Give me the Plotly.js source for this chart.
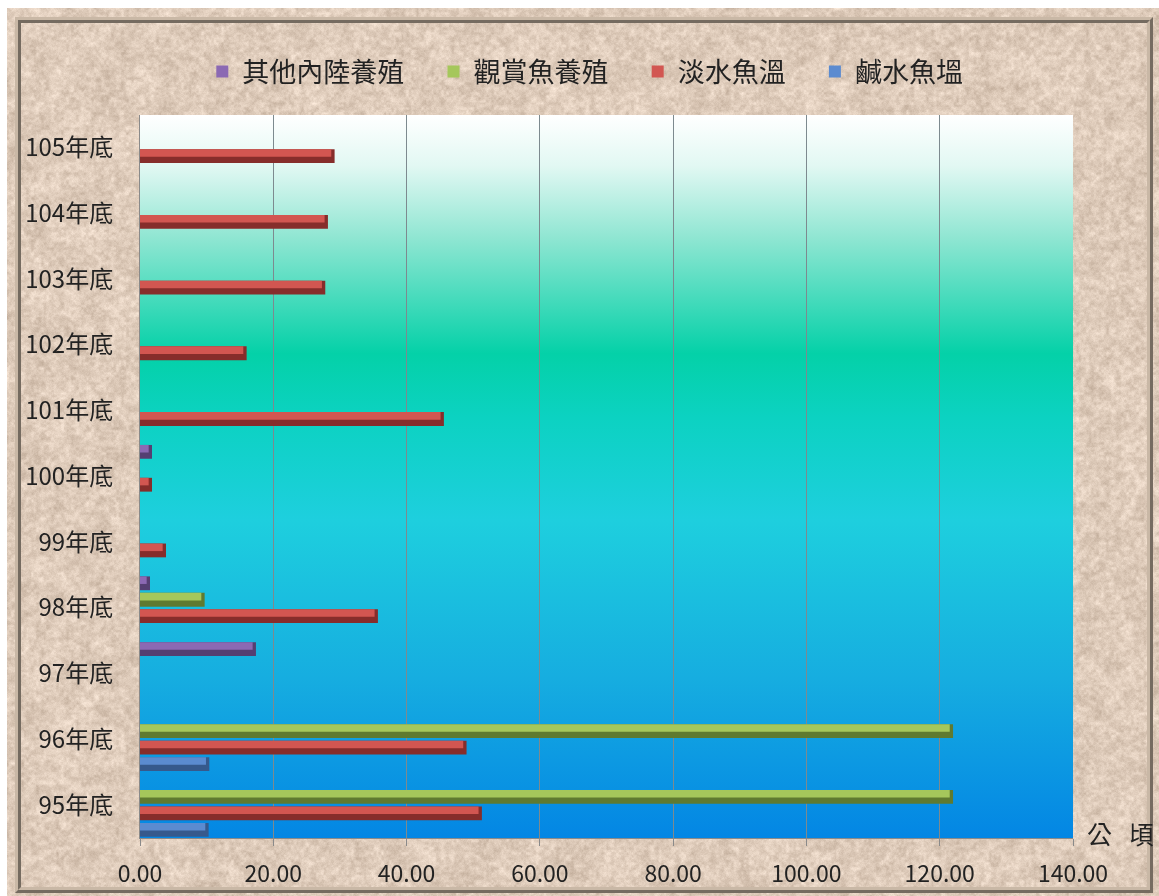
<!DOCTYPE html>
<html>
<head>
<meta charset="utf-8">
<script src="https://cdn.plot.ly/plotly-3.0.1.min.js"></script>
<style>
  html, body { margin: 0; padding: 0; background: #ffffff; width: 1159px; height: 896px; overflow: hidden; }
  #bg { position: absolute; left: 7px; top: 8px; width: 1152px; height: 888px; background-color: #dac7b3; }
  #bevel { position: absolute; left: 15px; top: 17px; width: 1126px; height: 864px; border: 6px ridge #c9b8a6; }
  #chart { position: absolute; left: 0; top: 0; width: 1159px; height: 896px; }
</style>
</head>
<body>
<canvas id="bg" width="1152" height="888"></canvas>
<div id="bevel"></div>
<div id="chart"></div>
<script>
// ---- data ----
const categories = ['95年底','96年底','97年底','98年底','99年底','100年底','101年底','102年底','103年底','104年底','105年底'];
const seriesNames = ['鹹水魚塭','淡水魚溫','觀賞魚養殖','其他內陸養殖'];
const saltwaterPond = [10.3, 10.4, 0, 0, 0, 0, 0, 0, 0, 0, 0];
const freshwaterPond = [51.3, 49.0, 0, 35.7, 3.9, 1.8, 45.6, 16.0, 27.8, 28.2, 29.2];
const ornamentalFish = [122.0, 122.0, 0, 9.7, 0, 0, 0, 0, 0, 0, 0];
const otherInland = [0, 0, 17.4, 1.5, 0, 1.8, 0, 0, 0, 0, 0];
const xTickValues = [0, 20, 40, 60, 80, 100, 120, 140];
const xTickLabels = ['0.00','20.00','40.00','60.00','80.00','100.00','120.00','140.00'];
const unitLabel = '公\u00a0\u00a0\u00a0頃';

// ---- sand texture background (deterministic value noise) ----
(function () {
  const cv = document.getElementById('bg');
  const ctx = cv.getContext('2d');
  const W = cv.width, H = cv.height;
  function hash(x, y, s) {
    let h = (x * 374761393 + y * 668265263 + s * 982451653) | 0;
    h = Math.imul(h ^ (h >>> 13), 1274126177);
    h = h ^ (h >>> 16);
    return ((h >>> 0) % 10000) / 10000;
  }
  function vnoise(x, y, scale, s) {
    const gx = x / scale, gy = y / scale;
    const x0 = Math.floor(gx), y0 = Math.floor(gy);
    let fx = gx - x0, fy = gy - y0;
    fx = fx * fx * (3 - 2 * fx); fy = fy * fy * (3 - 2 * fy);
    const a = hash(x0, y0, s), b = hash(x0 + 1, y0, s), c = hash(x0, y0 + 1, s), d = hash(x0 + 1, y0 + 1, s);
    return (a * (1 - fx) + b * fx) * (1 - fy) + (c * (1 - fx) + d * fx) * fy;
  }
  const img = ctx.createImageData(W, H);
  const p = img.data;
  for (let y = 0; y < H; y++) {
    for (let x = 0; x < W; x++) {
      const n = (vnoise(x, y, 16, 1) - 0.5) * 14 + (vnoise(x, y, 5, 2) - 0.5) * 22 + (vnoise(x, y, 2.5, 3) - 0.5) * 22 + (hash(x, y, 4) - 0.5) * 10;
      const i = (y * W + x) * 4;
      p[i] = Math.max(0, Math.min(255, 222 + n));
      p[i + 1] = Math.max(0, Math.min(255, 203 + n * 1.05));
      p[i + 2] = Math.max(0, Math.min(255, 186 + n * 1.1));
      p[i + 3] = 255;
    }
  }
  ctx.putImageData(img, 0, 0);
})();

// ---- plot-area gradient ----
const gradSvg = "<svg xmlns='http://www.w3.org/2000/svg' width='100' height='1000' preserveAspectRatio='none'>" +
  "<defs><linearGradient id='g' x1='0' y1='0' x2='0' y2='1'>" +
  "<stop offset='0' stop-color='#ffffff'/>" +
  "<stop offset='0.07' stop-color='#e2f8f3'/>" +
  "<stop offset='0.17' stop-color='#8fe6d2'/>" +
  "<stop offset='0.33' stop-color='#04d1a8'/>" +
  "<stop offset='0.42' stop-color='#0cd2c2'/>" +
  "<stop offset='0.56' stop-color='#1ecfde'/>" +
  "<stop offset='0.78' stop-color='#16ade0'/>" +
  "<stop offset='1' stop-color='#0386e4'/>" +
  "</linearGradient></defs><rect width='100' height='1000' fill='url(#g)'/></svg>";

const FONT = '"Noto Sans CJK TC", "Noto Sans", sans-serif';
const darkColors = ['#36598c', '#862d2b', '#5f7a30', '#553f72'];
const lightColors = ['#5b8bd0', '#d25651', '#a5c75b', '#8b69b3'];
const values = [saltwaterPond, freshwaterPond, ornamentalFish, otherInland];
const pad = '\u00a0\u00a0\u00a0\u00a0';

const SLOT = 0.25, BARW = 0.21, TOPW = 0.115;
const baseTraces = values.map((v, i) => ({
  type: 'bar',
  orientation: 'h',
  name: seriesNames[i],
  legendgroup: 's' + i,
  showlegend: false,
  y: categories,
  x: v,
  width: BARW,
  offset: -0.5 + i * SLOT + 0.02,
  marker: { color: darkColors[i], line: { width: 0 } },
  hoverinfo: 'x+y+name'
}));
const topTraces = values.map((v, i) => ({
  type: 'bar',
  orientation: 'h',
  name: seriesNames[i] + (i === 0 ? '' : pad),
  legendgroup: 's' + i,
  showlegend: true,
  y: categories,
  x: v.map(val => val > 0 ? Math.max(0, val - 0.5) : 0),
  width: TOPW,
  offset: -0.5 + i * SLOT + 0.02 + (BARW - TOPW),
  marker: { color: lightColors[i], line: { width: 0 } },
  hoverinfo: 'skip'
}));

const layout = {
  width: 1159,
  height: 896,
  paper_bgcolor: 'rgba(0,0,0,0)',
  plot_bgcolor: 'rgba(0,0,0,0)',
  margin: { l: 140, r: 86, t: 115, b: 58 },
  barmode: 'overlay',
  font: { family: FONT, size: 23, color: '#222222' },
  showlegend: true,
  legend: {
    orientation: 'h',
    traceorder: 'reversed',
    x: 0.505, xref: 'container', xanchor: 'center',
    y: 1 - 72 / 896, yref: 'container', yanchor: 'middle',
    font: { family: FONT, size: 27, color: '#222222' },
    bgcolor: 'rgba(0,0,0,0)',
    itemclick: false
  },
  xaxis: {
    range: [0, 140],
    tickvals: xTickValues,
    ticktext: xTickLabels,
    showgrid: true,
    gridcolor: '#7d8a8f',
    gridwidth: 1,
    zeroline: false,
    showline: true,
    linecolor: '#8a8a8a',
    linewidth: 1,
    ticks: 'outside',
    ticklen: 7,
    tickcolor: '#8a8a8a',
    ticklabelstandoff: 8,
    tickfont: { family: FONT, size: 23, color: '#222222' },
    fixedrange: true
  },
  yaxis: {
    type: 'category',
    categoryorder: 'array',
    categoryarray: categories,
    range: [-0.5, categories.length - 0.5],
    showgrid: false,
    zeroline: false,
    showline: true,
    linecolor: '#8a8a8a',
    linewidth: 1,
    ticks: '',
    ticklabelstandoff: 21,
    tickfont: { family: FONT, size: 24, color: '#222222' },
    fixedrange: true
  },
  images: [{
    source: 'data:image/svg+xml,' + encodeURIComponent(gradSvg),
    xref: 'paper', yref: 'paper',
    x: 0, y: 1, sizex: 1, sizey: 1,
    xanchor: 'left', yanchor: 'top',
    sizing: 'stretch',
    layer: 'below'
  }],
  annotations: [{
    text: unitLabel,
    xref: 'paper', yref: 'paper',
    x: 1, y: 0,
    xanchor: 'left', yanchor: 'middle',
    xshift: 12, yshift: 5,
    showarrow: false,
    font: { family: FONT, size: 25, color: '#222222' }
  }]
};

Plotly.newPlot('chart', baseTraces.concat(topTraces), layout, { displayModeBar: false });
</script>
</body>
</html>
